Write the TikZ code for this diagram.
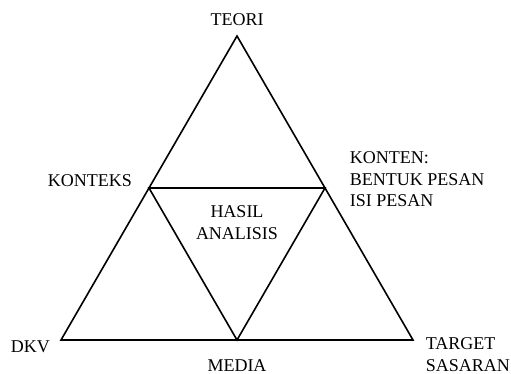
\documentclass[tikz,border=0pt]{standalone}
\usepackage{fontspec}
\setmainfont{Liberation Serif}
\usepackage{tikz}
\usetikzlibrary{positioning, calc}

\begin{document}
\begin{tikzpicture}[x=1pt, y=-1pt, line width=1.6pt, line join=miter,
        tag/.style={inner sep=0pt, font=\fontsize{18}{21.5}\selectfont, align=left}]

        \useasboundingbox (0,0) rectangle (511,374);

        % corners and midpoints
        \coordinate (teori) at (237,36);
        \coordinate (dkv) at (61,340);
        \coordinate (target) at (413,340);
        \coordinate (konteks) at ($(teori)!0.5!(dkv)$);
        \coordinate (konten) at ($(teori)!0.5!(target)$);
        \coordinate (media) at ($(dkv)!0.5!(target)$);

        \draw (teori) -- (dkv) -- (target) -- cycle;
        \draw (konteks) -- (konten) -- (media) -- cycle;

        % labels (base = last line)
        \node[tag, anchor=base] (tTeori) at (237,26) {TEORI};
        \node[tag, anchor=base west] (tKonteks) at (47,187) {KONTEKS};
        \node[tag, anchor=base west] (tKonten) at (349,207) {KONTEN:\\BENTUK PESAN\\ISI PESAN};
        \node[tag, anchor=base, align=center] (tHasil) at (237,239) {HASIL\\ANALISIS};
        \node[tag, anchor=base west] (tDkv) at (10,352) {DKV};
        \node[tag, anchor=base] (tMedia) at (237,371) {MEDIA};
        \node[tag, anchor=base west] (tTarget) at (425,371) {TARGET\\SASARAN};

    \end{tikzpicture}
\end{document}
